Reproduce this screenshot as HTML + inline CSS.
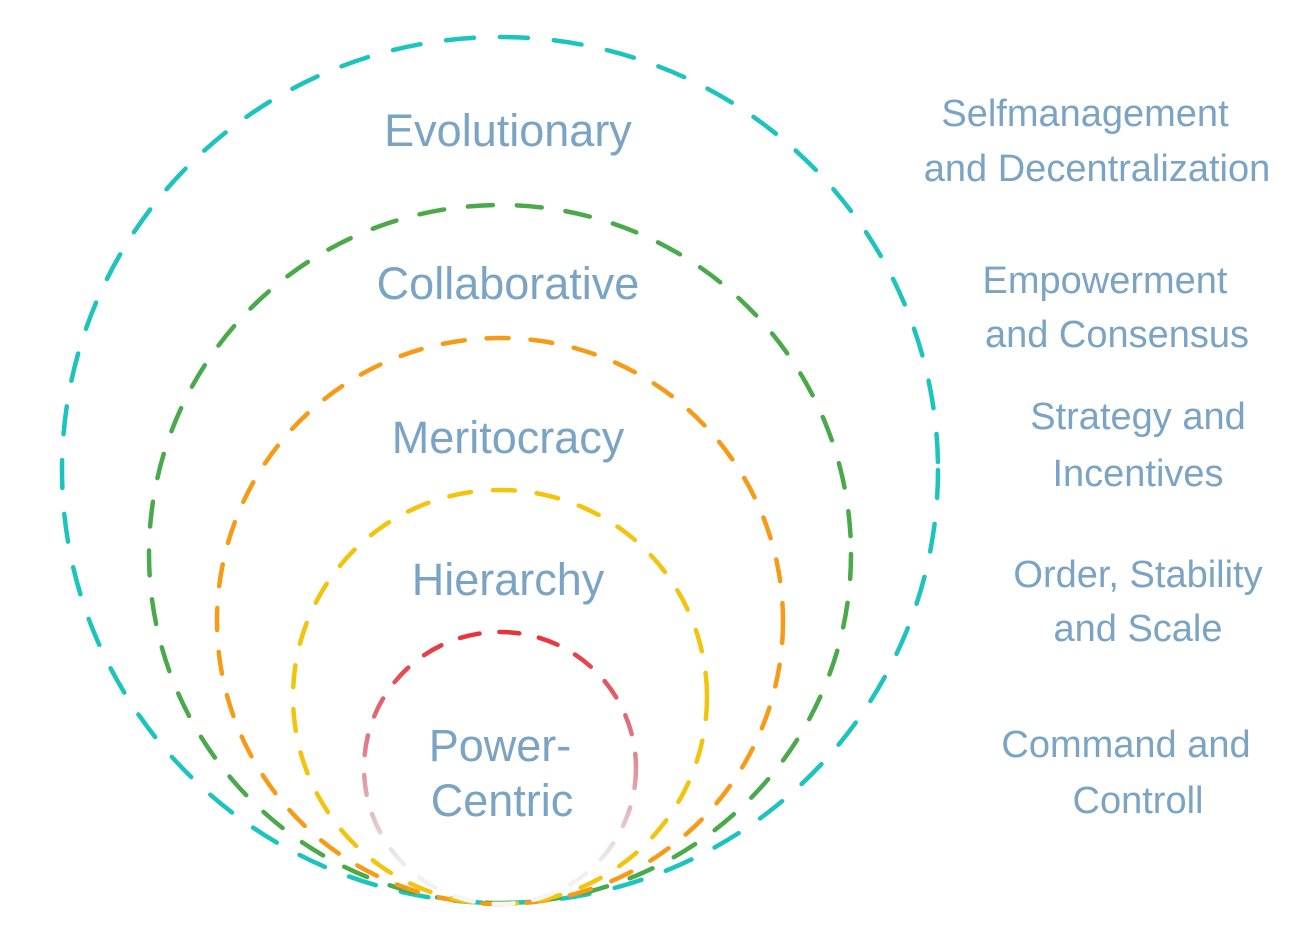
<!DOCTYPE html>
<html><head><meta charset="utf-8"><style>
html,body{margin:0;padding:0;background:#fff;}
svg{display:block}
text{font-family:"Liberation Sans",sans-serif;fill:#7aa3c4;}
</style></head><body>
<svg width="1292" height="933" viewBox="0 0 1292 933" xmlns="http://www.w3.org/2000/svg">
<defs>
<linearGradient id="rg" x1="0" y1="632" x2="0" y2="904" gradientUnits="userSpaceOnUse">
<stop offset="0" stop-color="#e8323a"/>
<stop offset="0.4" stop-color="#de7a84"/>
<stop offset="0.65" stop-color="#e3b5bb"/>
<stop offset="0.85" stop-color="#eeeeee"/>
<stop offset="1" stop-color="#f6f6f6"/>
</linearGradient>
</defs>
<g fill="none" stroke-width="4.5" stroke-linecap="round">
<ellipse cx="500" cy="470" rx="438" ry="433" stroke="#1cc4bd" stroke-dasharray="28 26"/>
<ellipse cx="500" cy="554" rx="351" ry="349" stroke="#4aa94a" stroke-dasharray="25 24"/>
<circle cx="500" cy="621" r="283" stroke="#f79a16" stroke-dasharray="22 22"/>
<circle cx="500" cy="697" r="207" stroke="#f2c40e" stroke-dasharray="22 22"/>
<circle cx="500" cy="768" r="136" stroke="url(#rg)" stroke-dasharray="20 20"/>
</g>
<g font-size="45" text-anchor="middle">
<text x="508" y="146">Evolutionary</text>
<text x="508" y="299">Collaborative</text>
<text x="508" y="453">Meritocracy</text>
<text x="508" y="595">Hierarchy</text>
<text x="500" y="761">Power-</text>
<text x="502" y="816">Centric</text>
</g>
<g font-size="38" text-anchor="middle">
<text x="1085" y="126">Selfmanagement</text>
<text x="1097" y="181">and Decentralization</text>
<text x="1105" y="293">Empowerment</text>
<text x="1117" y="347">and Consensus</text>
<text x="1138" y="429">Strategy and</text>
<text x="1138" y="486">Incentives</text>
<text x="1138" y="587">Order, Stability</text>
<text x="1138" y="641">and Scale</text>
<text x="1126" y="757">Command and</text>
<text x="1138" y="813">Controll</text>
</g>
</svg>
</body></html>
